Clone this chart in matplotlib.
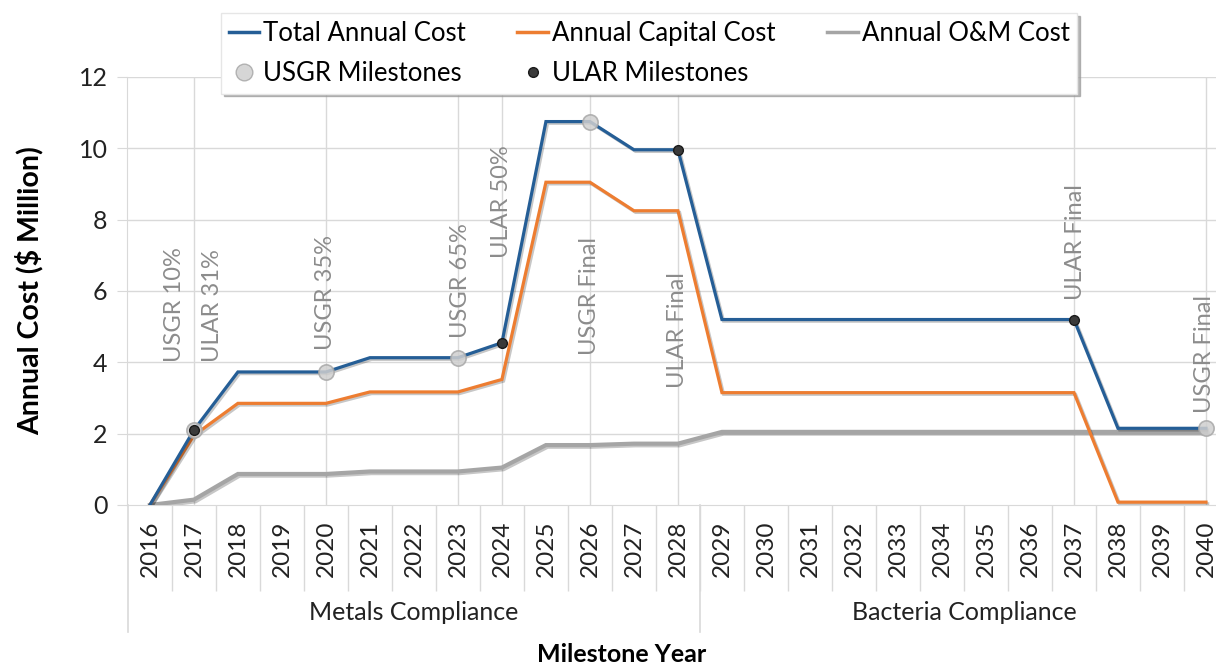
import numpy as np
import matplotlib.pyplot as plt
import matplotlib.patheffects as pe
from matplotlib.lines import Line2D

plt.rcParams['font.family'] = ['Lato', 'DejaVu Sans']

# ---------------------------------------------------
# Data, $ million per year
# ---------------------------------------------------
years = list(range(2016, 2041))
total_cost = [0.0, 2.1, 3.73, 3.73, 3.73, 4.13, 4.13, 4.13, 4.55, 10.75, 10.75,
              9.96, 9.96, 5.2, 5.2, 5.2, 5.2, 5.2, 5.2, 5.2, 5.2, 5.2,
              2.15, 2.15, 2.15]
capital_cost = [0.0, 1.95, 2.85, 2.85, 2.85, 3.17, 3.17, 3.17, 3.52, 9.05, 9.05,
                8.25, 8.25, 3.15, 3.15, 3.15, 3.15, 3.15, 3.15, 3.15, 3.15, 3.15,
                0.08, 0.08, 0.08]
om_cost = [0.0, 0.15, 0.87, 0.87, 0.87, 0.94, 0.94, 0.94, 1.05, 1.68, 1.68,
           1.72, 1.72, 2.05, 2.05, 2.05, 2.05, 2.05, 2.05, 2.05, 2.05, 2.05,
           2.05, 2.05, 2.05]

usgr_years = [2017, 2020, 2023, 2026, 2040]
ular_years = [2017, 2024, 2028, 2037]

# milestone labels: (year, text)
milestone_labels = [(2017, "USGR 10%"), (2017, "ULAR 31%"), (2020, "USGR 35%"),
                    (2023, "USGR 65%"), (2024, "ULAR 50%"), (2026, "USGR Final"),
                    (2028, "ULAR Final"), (2037, "ULAR Final"), (2040, "USGR Final")]

groups = ["Metals Compliance", "Bacteria Compliance"]
group_spans = [(2016, 2028), (2029, 2040)]

# layout only: label x-shift and bottom height for each milestone label
label_dx = [-0.45, 0.42, 0.0, 0.05, -0.02, 0.0, 0.0, 0.03, -0.03]
label_y = [4.0, 4.0, 4.35, 4.68, 6.92, 4.2, 3.28, 5.75, 2.58]

BLUE = '#255E96'
ORANGE = '#ED7D31'
GRAY = '#A5A5A5'
GRID = '#D9D9D9'
LABEL_GRAY = '#8C8C8C'
TEXT = '#222222'

fig = plt.figure(figsize=(12.16, 6.70), dpi=100)
ax = fig.add_axes([127 / 1216, 165 / 670, 1101 / 1216, 428 / 670])
ax.set_xlim(2015.48, 2040.5)
ax.set_ylim(0, 12)

# grid: horizontal at every 2, vertical only at milestone years
ax.set_yticks(np.arange(0, 13, 2))
for yv in np.arange(2, 13, 2):
    ax.axhline(yv, color=GRID, lw=1, zorder=0)
milestone_years = sorted(set(usgr_years) | set(ular_years))
ax.vlines(milestone_years, 0, 12, color=GRID, lw=1, zorder=0)

shadow = [pe.SimpleLineShadow(offset=(1.2, -1.2), shadow_color='k', alpha=0.22), pe.Normal()]
ax.plot(years, om_cost, color=GRAY, lw=3.0, zorder=3, path_effects=shadow, solid_joinstyle='miter')
ax.plot(years, capital_cost, color=ORANGE, lw=2.3, zorder=4, path_effects=shadow, solid_joinstyle='miter')
ax.plot(years, total_cost, color=BLUE, lw=2.3, zorder=5, path_effects=shadow, solid_joinstyle='miter')

tot = dict(zip(years, total_cost))
ax.plot(usgr_years, [tot[y] for y in usgr_years], 'o', ms=11, mfc='#CFCFCF',
        mec='#A8A8A8', mew=1.2, alpha=0.85, zorder=6)
ax.plot(ular_years, [tot[y] for y in ular_years], 'o', ms=7, mfc='#3A3A3A',
        mec='#1A1A1A', mew=1, zorder=7)

for (yr, txt), dx, yb in zip(milestone_labels, label_dx, label_y):
    ax.text(yr + dx, yb, txt, rotation=90, ha='center', va='bottom',
            fontsize=17, color=LABEL_GRAY, zorder=8)

# spines
for s in ['top', 'right']:
    ax.spines[s].set_visible(False)
ax.spines['left'].set_color(GRID)
ax.spines['bottom'].set_color(GRID)
ax.spines['left'].set_zorder(0)

ax.tick_params(axis='y', length=7, color=GRID, labelsize=18, pad=7, labelcolor=TEXT)
ax.set_xticks(years)
ax.set_xticklabels([str(y) for y in years], rotation=90, fontsize=17.5, color=TEXT)
ax.tick_params(axis='x', which='major', length=0, pad=11)
ax.set_xticks(np.arange(2016.5, 2040, 1), minor=True)
ax.tick_params(axis='x', which='minor', length=62, color=GRID, width=1)

# category group labels under the years
xtr = ax.get_xaxis_transform()
for name, (a, b) in zip(groups, group_spans):
    ax.text((a + b) / 2, -0.252, name, transform=xtr, ha='center', va='center',
            fontsize=18, color=TEXT)
    ax.plot([a - 0.5, a - 0.5], [0, -0.297], transform=xtr, color=GRID,
            lw=1.2, clip_on=False)

ax.set_ylabel("Annual Cost ($ Million)", fontsize=20.5, fontweight='bold')
ax.yaxis.set_label_coords(-83 / 1101, 0.5)
fig.text(622 / 1216, 1 - 655 / 670, "Milestone Year", ha='center', va='center',
         fontsize=18, fontweight='bold')

handles = [
    Line2D([], [], color=BLUE, lw=2.5),
    Line2D([], [], ls='none', marker='o', ms=12, mfc='#CFCFCF', mec='#A8A8A8', alpha=0.85),
    Line2D([], [], color=ORANGE, lw=2.5),
    Line2D([], [], ls='none', marker='o', ms=7, mfc='#3A3A3A', mec='#1A1A1A'),
    Line2D([], [], color=GRAY, lw=2.5),
]
labels = ["Total Annual Cost", "USGR Milestones", "Annual Capital Cost",
          "ULAR Milestones", "Annual O&M Cost"]
leg = fig.legend(handles, labels, ncol=3, loc='upper left',
                 bbox_to_anchor=(208 / 1216, 1.0), fontsize=18.5,
                 handlelength=1.2, handletextpad=0.15, columnspacing=2.0,
                 labelspacing=0.6, borderpad=0.3, fancybox=False,
                 frameon=True, edgecolor='#E6E6E6', framealpha=1,
                 shadow={'color': '#9A9A9A', 'alpha': 0.7})
leg.set_zorder(20)

fig.savefig("out.png", dpi=100)
